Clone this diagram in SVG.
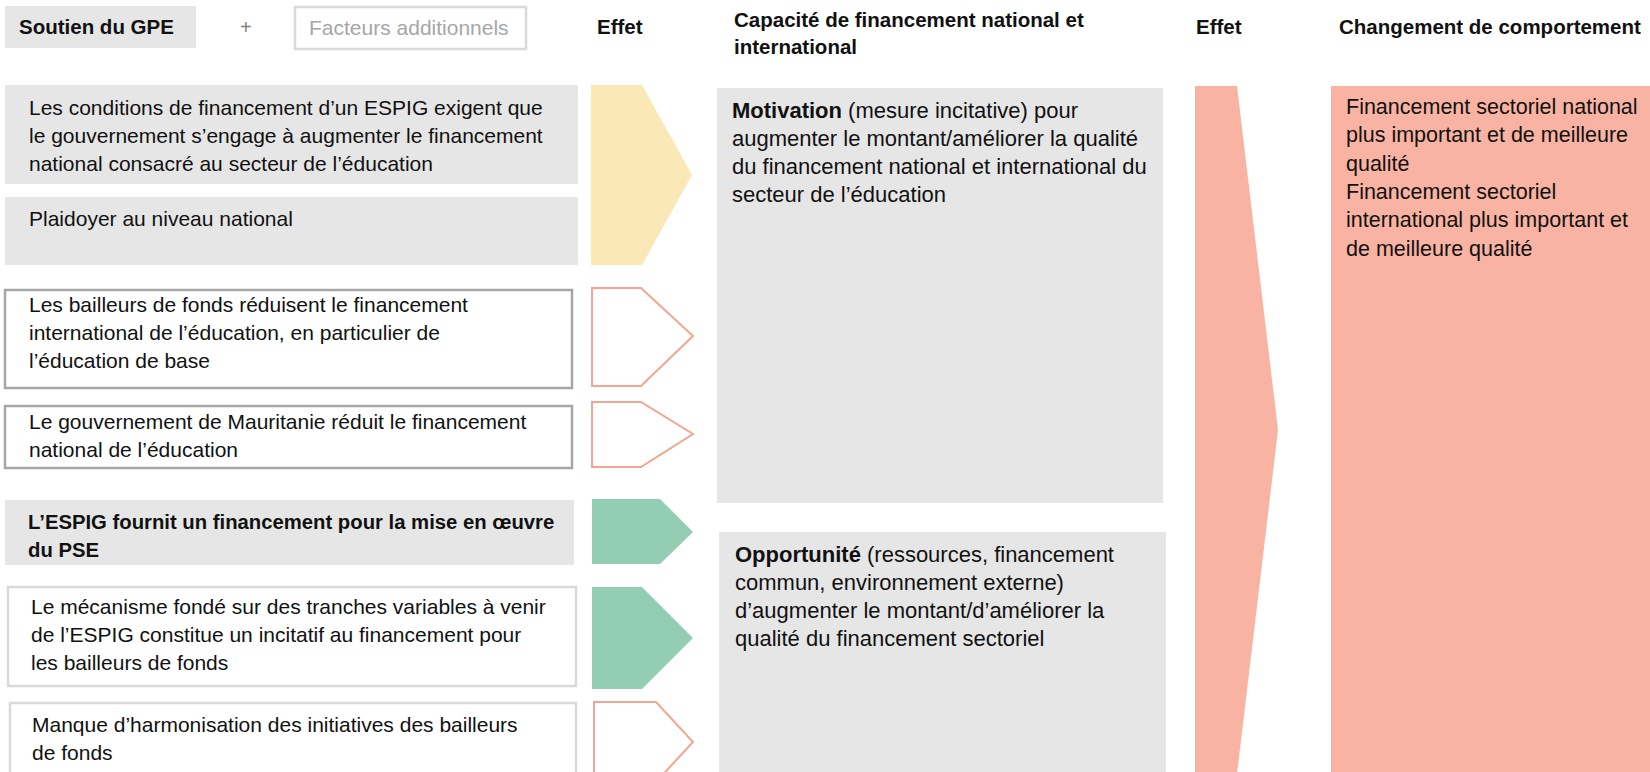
<svg xmlns="http://www.w3.org/2000/svg" width="1650" height="772" viewBox="0 0 1650 772">
<style>
text{font-family:"Liberation Sans",Arial,sans-serif;fill:#111;}
.l{font-size:21px;}
.lb{font-size:20.3px;font-weight:bold;}
.h{font-size:20.5px;font-weight:bold;}
.m{font-size:22px;}
.r{font-size:21.5px;}
.gray{fill:#e6e6e6;}
.bd{fill:#fff;stroke:#a6a6a6;stroke-width:2.5;}
.bl{fill:#fff;stroke:#d9d9d9;stroke-width:2.5;}
.pk{fill:#fff;stroke:#f4a590;stroke-width:2;}
.yl{fill:#fae9b7;}
.gr{fill:#93cdb3;}
.pf{fill:#f9b3a2;}
</style>
<rect width="1650" height="772" fill="#fff"/>
<g id="header">
<g id="soutien"><rect class="gray" x="5" y="6" width="191" height="42"/><text class="h" x="19" y="34">Soutien du GPE</text></g>
<text x="240" y="34" style="font-size:20px;fill:#7f7f7f">+</text>
<g id="facteurs"><rect class="bl" x="295" y="7" width="231" height="42"/><text x="309" y="35" style="font-size:21px;fill:#a6a6a6">Facteurs additionnels</text></g>
<text class="h" x="597" y="34">Effet</text>
<text class="h" x="734" y="27">Capacité de financement national et</text>
<text class="h" x="734" y="54">international</text>
<text class="h" x="1196" y="34">Effet</text>
<text class="h" x="1339" y="34">Changement de comportement</text>
</g>
<g id="node-a"><rect class="gray" x="5" y="85" width="573" height="99"/>
<text class="l" x="29" y="115">Les conditions de financement d’un ESPIG exigent que</text>
<text class="l" x="29" y="143">le gouvernement s’engage à augmenter le financement</text>
<text class="l" x="29" y="171">national consacré au secteur de l’éducation</text></g>
<g id="node-b"><rect class="gray" x="5" y="197" width="573" height="68"/>
<text class="l" x="29" y="226">Plaidoyer au niveau national</text></g>
<g id="node-c"><rect class="bd" x="5" y="290" width="567" height="98"/>
<text class="l" x="29" y="312">Les bailleurs de fonds réduisent le financement</text>
<text class="l" x="29" y="340">international de l’éducation, en particulier de</text>
<text class="l" x="29" y="368">l’éducation de base</text></g>
<g id="node-d"><rect class="bd" x="5" y="406" width="567" height="62"/>
<text class="l" x="29" y="429">Le gouvernement de Mauritanie réduit le financement</text>
<text class="l" x="29" y="457">national de l’éducation</text></g>
<g id="node-e"><rect class="gray" x="5" y="500" width="569" height="65"/>
<text class="lb" x="28" y="529">L’ESPIG fournit un financement pour la mise en œuvre</text>
<text class="lb" x="28" y="557">du PSE</text></g>
<g id="node-f"><rect class="bl" x="8" y="587" width="568" height="99"/>
<text class="l" x="31" y="614">Le mécanisme fondé sur des tranches variables à venir</text>
<text class="l" x="31" y="642">de l’ESPIG constitue un incitatif au financement pour</text>
<text class="l" x="31" y="670">les bailleurs de fonds</text></g>
<g id="node-g"><rect class="bl" x="10" y="703" width="566" height="90"/>
<text class="l" x="32" y="732">Manque d’harmonisation des initiatives des bailleurs</text>
<text class="l" x="32" y="760">de fonds</text></g>
<g id="node-motivation"><rect class="gray" x="717" y="88" width="446" height="415"/>
<text class="m" x="732" y="118"><tspan font-weight="bold">Motivation</tspan> (mesure incitative) pour</text>
<text class="m" x="732" y="146">augmenter le montant/améliorer la qualité</text>
<text class="m" x="732" y="174">du financement national et international du</text>
<text class="m" x="732" y="202">secteur de l’éducation</text></g>
<g id="node-opportunite"><rect class="gray" x="719" y="532" width="447" height="250"/>
<text class="m" x="735" y="562"><tspan font-weight="bold">Opportunité</tspan> (ressources, financement</text>
<text class="m" x="735" y="590">commun, environnement externe)</text>
<text class="m" x="735" y="618">d’augmenter le montant/d’améliorer la</text>
<text class="m" x="735" y="646">qualité du financement sectoriel</text></g>
<g id="node-changement"><rect class="pf" x="1331" y="86" width="330" height="696"/>
<text class="r" x="1346" y="114">Financement sectoriel national</text>
<text class="r" x="1346" y="142">plus important et de meilleure</text>
<text class="r" x="1346" y="171">qualité</text>
<text class="r" x="1346" y="199">Financement sectoriel</text>
<text class="r" x="1346" y="227">international plus important et</text>
<text class="r" x="1346" y="256">de meilleure qualité</text></g>
<g id="connectors">
<polygon class="yl" points="591,85 642,85 692,175 642,265 591,265"/>
<polygon class="pk" points="592,288 641,288 693,336 641,386 592,386"/>
<polygon class="pk" points="592,402 641,402 693,434 641,467 592,467"/>
<polygon class="gr" points="592,499 660,499 693,532 660,564 592,564"/>
<polygon class="gr" points="592,587 642,587 693,638 642,689 592,689"/>
<polygon class="pk" points="594,702 656,702 693,742 656,782 594,782"/>
<polygon class="pf" points="1195,86 1237,86 1278,430 1237,774 1195,774"/>
</g>
</svg>
